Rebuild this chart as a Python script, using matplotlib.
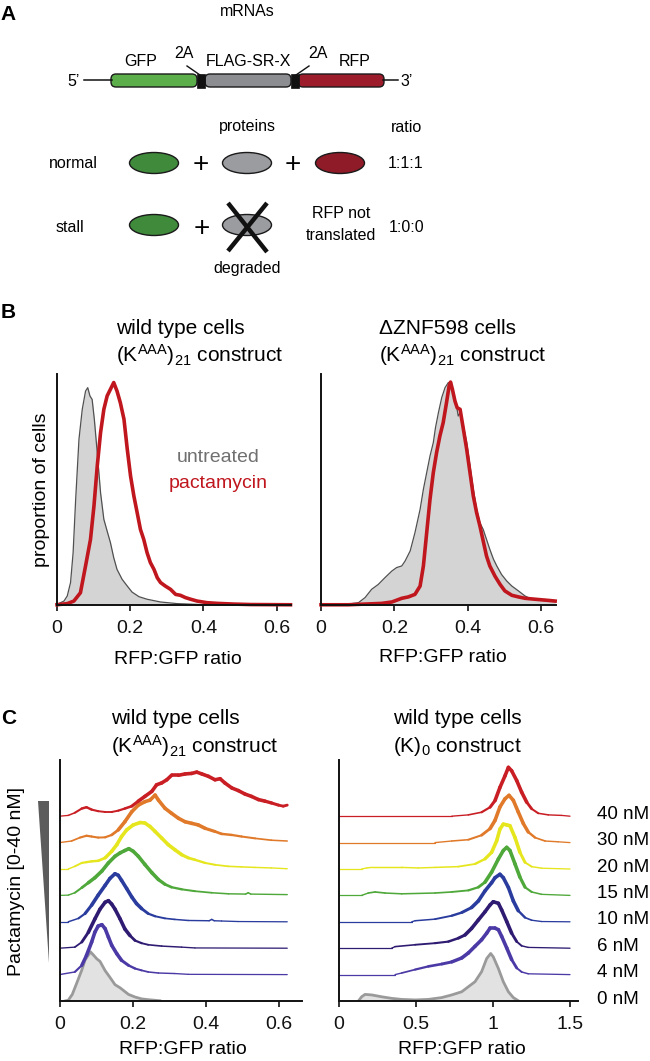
import numpy as np
import matplotlib
matplotlib.use("Agg")
import matplotlib.pyplot as plt
from matplotlib import font_manager
from matplotlib.patches import Ellipse, FancyBboxPatch, Rectangle, Polygon
from matplotlib.collections import LineCollection

# ---------------- data: panel B (normalised proportion of cells) ----------------
wt_untreated_x = [0.0, 0.019, 0.028, 0.037, 0.044, 0.051, 0.060, 0.069, 0.078, 0.084, 0.090, 0.096, 0.102,
                  0.110, 0.119, 0.128, 0.137, 0.146, 0.155, 0.164, 0.178, 0.192, 0.205, 0.224, 0.246, 0.283,
                  0.328, 0.392, 0.45, 0.55, 0.64]
wt_untreated_y = [0.003, 0.017, 0.039, 0.097, 0.226, 0.457, 0.717, 0.847, 0.926, 0.941, 0.905, 0.890, 0.804,
                  0.659, 0.486, 0.371, 0.320, 0.270, 0.205, 0.154, 0.111, 0.082, 0.056, 0.036, 0.025, 0.013,
                  0.006, 0.002, 0.001, 0.0, 0.0]
wt_pact_x = [0.0, 0.028, 0.046, 0.064, 0.078, 0.0915, 0.101, 0.110, 0.119, 0.128, 0.137, 0.146, 0.155, 0.164,
             0.173, 0.183, 0.192, 0.201, 0.210, 0.219, 0.228, 0.237, 0.246, 0.255, 0.265, 0.274, 0.283, 0.296,
             0.310, 0.324, 0.337, 0.351, 0.365, 0.383, 0.410, 0.438, 0.483, 0.529, 0.638]
wt_pact_y = [0.001, 0.006, 0.017, 0.053, 0.169, 0.284, 0.429, 0.602, 0.746, 0.847, 0.905, 0.934, 0.963, 0.926,
             0.876, 0.804, 0.674, 0.558, 0.472, 0.400, 0.327, 0.284, 0.227, 0.184, 0.154, 0.118, 0.097, 0.082,
             0.068, 0.046, 0.042, 0.032, 0.025, 0.017, 0.010, 0.007, 0.004, 0.002, 0.001]
znf_untreated_x = [0.0, 0.074, 0.102, 0.120, 0.138, 0.156, 0.174, 0.193, 0.206, 0.220, 0.229, 0.243, 0.256,
                   0.270, 0.279, 0.288, 0.297, 0.306, 0.312, 0.320, 0.329, 0.338, 0.347, 0.354, 0.361, 0.370,
                   0.374, 0.379, 0.388, 0.397, 0.406, 0.415, 0.424, 0.433, 0.442, 0.451, 0.460, 0.470, 0.479,
                   0.492, 0.506, 0.520, 0.538, 0.556, 0.574, 0.601, 0.638]
znf_untreated_y = [0.001, 0.004, 0.010, 0.032, 0.068, 0.089, 0.118, 0.147, 0.162, 0.169, 0.190, 0.234, 0.313,
                   0.414, 0.501, 0.573, 0.645, 0.703, 0.768, 0.833, 0.898, 0.941, 0.963, 0.955, 0.919, 0.854,
                   0.818, 0.833, 0.775, 0.703, 0.602, 0.501, 0.414, 0.356, 0.327, 0.284, 0.241, 0.198, 0.169,
                   0.132, 0.104, 0.082, 0.061, 0.039, 0.025, 0.020, 0.017]
znf_pact_x = [0.0, 0.074, 0.120, 0.165, 0.193, 0.220, 0.238, 0.256, 0.270, 0.279, 0.288, 0.297, 0.306, 0.315,
              0.324, 0.333, 0.342, 0.349, 0.353, 0.358, 0.365, 0.371, 0.379, 0.388, 0.397, 0.406, 0.415, 0.424,
              0.433, 0.442, 0.451, 0.460, 0.474, 0.488, 0.501, 0.520, 0.538, 0.556, 0.583, 0.619, 0.638]
znf_pact_y = [0.001, 0.001, 0.004, 0.007, 0.013, 0.029, 0.035, 0.046, 0.082, 0.169, 0.313, 0.457, 0.573, 0.660,
              0.732, 0.790, 0.876, 0.948, 0.965, 0.934, 0.883, 0.854, 0.847, 0.761, 0.674, 0.573, 0.472, 0.400,
              0.342, 0.277, 0.212, 0.169, 0.125, 0.089, 0.061, 0.042, 0.035, 0.029, 0.025, 0.020, 0.017]

# ---------------- data: panel C (heights in units of the ridge spacing) ----------------
dose_labels = ["0 nM", "4 nM", "6 nM", "10 nM", "15 nM", "20 nM", "30 nM", "40 nM"]
dose_colors = ["#9a9a9a", "#4b3aa6", "#2f1b72", "#2a3c9e", "#4fa83a", "#e6e61e", "#e07a2a", "#c81e24"]

kaaa_0nM_x = [0.015, 0.024, 0.035, 0.047, 0.061, 0.070, 0.079, 0.085, 0.093, 0.102, 0.111, 0.125, 0.138, 0.152,
              0.166, 0.189, 0.207, 0.225, 0.243, 0.275]
kaaa_0nM_y = [0.0, 0.03, 0.25, 0.67, 1.17, 1.55, 1.74, 1.86, 1.74, 1.60, 1.50, 1.15, 0.90, 0.62, 0.50, 0.25,
              0.15, 0.08, 0.05, 0.01]
kaaa_4nM_x = [0.0, 0.042, 0.061, 0.074, 0.088, 0.097, 0.106, 0.116, 0.125, 0.134, 0.143, 0.157, 0.170, 0.189,
              0.207, 0.225, 0.243, 0.271, 0.316, 0.353, 0.624]
kaaa_4nM_y = [0.0, 0.10, 0.35, 0.73, 1.23, 1.61, 1.84, 1.89, 1.74, 1.42, 1.11, 0.79, 0.54, 0.35, 0.23, 0.16,
              0.10, 0.06, 0.04, 0.01, 0.0]
kaaa_6nM_x = [0.0, 0.042, 0.061, 0.079, 0.097, 0.111, 0.125, 0.134, 0.143, 0.152, 0.166, 0.179, 0.193, 0.207,
              0.225, 0.243, 0.280, 0.335, 0.371, 0.624]
kaaa_6nM_y = [0.0, 0.04, 0.23, 0.60, 1.11, 1.48, 1.74, 1.80, 1.67, 1.48, 1.11, 0.73, 0.48, 0.29, 0.19, 0.13,
              0.08, 0.04, 0.01, 0.0]
kaaa_10nM_x = [0.0, 0.024, 0.052, 0.070, 0.088, 0.106, 0.125, 0.138, 0.152, 0.161, 0.170, 0.184, 0.198, 0.211,
               0.225, 0.243, 0.262, 0.289, 0.316, 0.353, 0.410, 0.417, 0.424, 0.444, 0.490, 0.624]
kaaa_10nM_y = [0.0, 0.0, 0.13, 0.31, 0.63, 1.01, 1.38, 1.64, 1.82, 1.76, 1.57, 1.26, 0.94, 0.69, 0.50, 0.31,
               0.21, 0.13, 0.09, 0.05, 0.04, 0.09, 0.04, 0.03, 0.01, 0.0]
kaaa_15nM_x = [0.0, 0.024, 0.042, 0.061, 0.079, 0.097, 0.116, 0.134, 0.152, 0.166, 0.179, 0.190, 0.202, 0.216,
               0.234, 0.253, 0.271, 0.289, 0.307, 0.335, 0.371, 0.417, 0.463, 0.510, 0.517, 0.524, 0.624]
kaaa_15nM_y = [0.0, 0.01, 0.10, 0.29, 0.48, 0.67, 0.92, 1.23, 1.48, 1.61, 1.70, 1.77, 1.67, 1.48, 1.17, 0.86,
               0.60, 0.42, 0.31, 0.23, 0.16, 0.10, 0.06, 0.05, 0.10, 0.05, 0.03]
kaaa_20nM_x = [0.0, 0.024, 0.042, 0.061, 0.074, 0.088, 0.106, 0.125, 0.143, 0.157, 0.170, 0.184, 0.202, 0.221,
               0.234, 0.248, 0.262, 0.280, 0.298, 0.316, 0.335, 0.353, 0.371, 0.399, 0.426, 0.463, 0.499, 0.536,
               0.581, 0.624]
kaaa_20nM_y = [0.0, 0.0, 0.10, 0.23, 0.26, 0.29, 0.31, 0.42, 0.67, 0.92, 1.23, 1.48, 1.67, 1.76, 1.74, 1.61,
               1.42, 1.17, 0.92, 0.73, 0.54, 0.42, 0.35, 0.23, 0.16, 0.10, 0.08, 0.06, 0.04, 0.01]
kaaa_30nM_x = [0.0, 0.033, 0.056, 0.074, 0.088, 0.106, 0.125, 0.143, 0.161, 0.179, 0.198, 0.216, 0.234, 0.248,
               0.262, 0.271, 0.289, 0.307, 0.326, 0.344, 0.362, 0.380, 0.399, 0.426, 0.444, 0.472, 0.499, 0.536,
               0.581, 0.624]
kaaa_30nM_y = [0.0, 0.06, 0.19, 0.26, 0.23, 0.19, 0.20, 0.29, 0.48, 0.79, 1.17, 1.42, 1.55, 1.61, 1.80, 1.61,
               1.30, 1.11, 0.92, 0.79, 0.73, 0.67, 0.54, 0.42, 0.33, 0.29, 0.23, 0.16, 0.09, 0.06]
kaaa_40nM_x = [0.0, 0.024, 0.042, 0.061, 0.074, 0.088, 0.106, 0.125, 0.143, 0.161, 0.179, 0.198, 0.216, 0.234,
               0.253, 0.266, 0.280, 0.294, 0.307, 0.326, 0.344, 0.362, 0.376, 0.390, 0.408, 0.426, 0.440, 0.453,
               0.472, 0.490, 0.508, 0.526, 0.545, 0.563, 0.581, 0.600, 0.613, 0.624]
kaaa_40nM_y = [0.0, 0.03, 0.13, 0.29, 0.34, 0.25, 0.19, 0.16, 0.16, 0.21, 0.29, 0.38, 0.57, 0.75, 0.94, 1.19,
               1.26, 1.38, 1.55, 1.55, 1.60, 1.62, 1.67, 1.60, 1.51, 1.38, 1.42, 1.26, 1.07, 0.97, 0.84, 0.75,
               0.63, 0.57, 0.50, 0.42, 0.38, 0.42]

k0_0nM_x = [0.126, 0.147, 0.169, 0.212, 0.277, 0.342, 0.407, 0.494, 0.580, 0.667, 0.732, 0.797, 0.840, 0.883,
            0.926, 0.959, 0.985, 1.002, 1.035, 1.067, 1.100, 1.132, 1.164]
k0_0nM_y = [0.0, 0.16, 0.25, 0.23, 0.16, 0.10, 0.06, 0.04, 0.06, 0.13, 0.23, 0.35, 0.54, 0.73, 1.11, 1.61,
            1.80, 1.67, 1.23, 0.73, 0.35, 0.13, 0.01]
k0_4nM_x = [0.0, 0.364, 0.407, 0.494, 0.580, 0.667, 0.732, 0.797, 0.840, 0.883, 0.926, 0.959, 0.981, 1.013,
            1.035, 1.056, 1.089, 1.121, 1.154, 1.186, 1.229, 1.5]
k0_4nM_y = [0.0, 0.0, 0.06, 0.19, 0.31, 0.40, 0.48, 0.63, 0.82, 1.07, 1.32, 1.57, 1.76, 1.76, 1.70, 1.45, 1.01,
            0.57, 0.25, 0.10, 0.03, 0.0]
k0_6nM_x = [0.0, 0.342, 0.364, 0.494, 0.623, 0.710, 0.775, 0.818, 0.861, 0.905, 0.948, 0.981, 1.002, 1.035,
            1.056, 1.089, 1.121, 1.154, 1.186, 1.229, 1.5]
k0_6nM_y = [0.0, 0.0, 0.06, 0.13, 0.19, 0.25, 0.38, 0.50, 0.75, 1.07, 1.38, 1.64, 1.76, 1.70, 1.45, 1.01, 0.57,
            0.25, 0.09, 0.03, 0.0]
k0_10nM_x = [0.0, 0.472, 0.494, 0.623, 0.732, 0.797, 0.861, 0.905, 0.948, 0.991, 1.013, 1.045, 1.067, 1.100,
             1.132, 1.164, 1.208, 1.251, 1.316, 1.5]
k0_10nM_y = [0.0, 0.0, 0.04, 0.10, 0.23, 0.35, 0.54, 0.79, 1.17, 1.48, 1.67, 1.80, 1.67, 1.30, 0.79, 0.42,
             0.16, 0.06, 0.01, 0.0]
k0_15nM_x = [0.0, 0.147, 0.190, 0.234, 0.299, 0.407, 0.623, 0.732, 0.840, 0.905, 0.948, 0.991, 1.035, 1.067,
             1.089, 1.110, 1.143, 1.175, 1.208, 1.251, 1.316, 1.5]
k0_15nM_y = [0.0, 0.0, 0.09, 0.13, 0.09, 0.06, 0.09, 0.13, 0.19, 0.31, 0.50, 0.88, 1.38, 1.70, 1.82, 1.70,
             1.19, 0.69, 0.31, 0.13, 0.04, 0.0]
k0_20nM_x = [0.0, 0.147, 0.180, 0.212, 0.407, 0.515, 0.623, 0.775, 0.883, 0.948, 0.991, 1.024, 1.045, 1.067,
             1.089, 1.110, 1.143, 1.175, 1.208, 1.251, 1.316, 1.5]
k0_20nM_y = [0.0, 0.0, 0.04, 0.06, 0.06, 0.04, 0.06, 0.09, 0.19, 0.38, 0.63, 1.07, 1.51, 1.70, 1.67, 1.64,
             1.19, 0.63, 0.25, 0.09, 0.03, 0.0]
k0_30nM_x = [0.0, 0.623, 0.732, 0.840, 0.926, 0.981, 1.013, 1.045, 1.078, 1.104, 1.132, 1.164, 1.197, 1.229,
             1.273, 1.338, 1.424, 1.5]
k0_30nM_y = [0.0, 0.0, 0.06, 0.11, 0.28, 0.53, 0.84, 1.35, 1.66, 1.79, 1.60, 1.16, 0.72, 0.40, 0.19, 0.06,
             0.03, 0.0]
k0_40nM_x = [0.0, 0.732, 0.840, 0.926, 0.981, 1.013, 1.045, 1.078, 1.100, 1.121, 1.154, 1.186, 1.219, 1.251,
             1.294, 1.359, 1.446, 1.5]
k0_40nM_y = [0.0, 0.0, 0.05, 0.15, 0.34, 0.59, 1.09, 1.53, 1.85, 1.72, 1.35, 0.91, 0.53, 0.28, 0.11, 0.05,
             0.03, 0.0]

b_ticks = [0, 0.2, 0.4, 0.6]
b_ticklabels = ["0", "0.2", "0.4", "0.6"]
c_right_ticks = [0, 0.5, 1, 1.5]
c_right_ticklabels = ["0", "0.5", "1", "1.5"]

# ---------------- fonts ----------------
names = {f.name for f in font_manager.fontManager.ttflist}
MAIN = 'Liberation Sans' if 'Liberation Sans' in names else 'DejaVu Sans'
NARROW = 'Liberation Sans Narrow' if 'Liberation Sans Narrow' in names else None
plt.rcParams['font.family'] = [MAIN, 'DejaVu Sans']
plt.rcParams['mathtext.default'] = 'regular'
plt.rcParams['mathtext.fontset'] = 'custom'
plt.rcParams['mathtext.rm'] = MAIN
plt.rcParams['mathtext.it'] = MAIN + ':italic'
plt.rcParams['mathtext.bf'] = MAIN + ':bold'

if NARROW:
    A_FONT, A_SIZE = [NARROW, MAIN], 13
else:
    A_FONT, A_SIZE = [MAIN], 11.5

W, H = 650, 1061
fig = plt.figure(figsize=(6.5, 10.61), dpi=100)

ov = fig.add_axes([0, 0, 1, 1])
ov.set_xlim(0, W)
ov.set_ylim(H, 0)
ov.axis('off')


def px_axes(left, top, right, bottom):
    return fig.add_axes([left / W, 1 - bottom / H, (right - left) / W, (bottom - top) / H])


def style(ax, ticks, labels, xlim, ylim):
    ax.set_xlim(*xlim)
    ax.set_ylim(*ylim)
    ax.patch.set_alpha(0)
    for s in ['top', 'right']:
        ax.spines[s].set_visible(False)
    for s in ['left', 'bottom']:
        ax.spines[s].set_linewidth(1.4)
        ax.spines[s].set_color('#111111')
    ax.set_yticks([])
    ax.set_xticks(ticks)
    ax.set_xticklabels(labels, fontsize=14)
    ax.tick_params(axis='x', length=4.5, width=1.2, pad=6, direction='out', colors='#111111')


def atext(x, y, s, size=None, **kw):
    kw.setdefault('ha', 'center')
    kw.setdefault('va', 'center')
    ov.text(x, y, s, fontsize=size or A_SIZE, family=A_FONT, **kw)


# ---------------- Panel A ----------------
ov.text(8, 15, "A", fontsize=15, fontweight='bold', ha='center', va='center', family=A_FONT)
atext(247, 12, "mRNAs")
atext(74, 81, "5\u2019")
atext(407, 81, "3\u2019")
ov.plot([84, 112], [80, 80], color='#111', lw=1.1)
ov.plot([383, 398], [80, 80], color='#111', lw=1.1)
for (x0, x1, c) in [(111, 197, '#5cae4b'), (205, 291, '#8b8d91'), (298, 384, '#9c1c2b')]:
    ov.add_patch(FancyBboxPatch((x0, 74), x1 - x0, 13, boxstyle='round,pad=0,rounding_size=5',
                                fc=c, ec='#1a1a1a', lw=1.0))
for x0 in [197, 291]:
    ov.add_patch(Rectangle((x0, 73.5), 8, 14, fc='#111', ec='#111', lw=0.5))
atext(141, 62, "GFP")
atext(248, 62, "FLAG-SR-X")
atext(355, 62, "RFP")
atext(184, 53, "2A")
atext(318, 53, "2A")
ov.plot([187, 200], [66, 75], color='#111', lw=1.0)
ov.plot([309, 296], [66, 75], color='#111', lw=1.0)

atext(247, 127, "proteins")
atext(406, 127, "ratio")
atext(73, 163, "normal")
atext(406, 163, "1:1:1")
atext(70, 227, "stall")
atext(407, 227, "1:0:0")
for (cx, cy, c) in [(154, 163, '#3f8a3b'), (247, 163, '#9b9ca0'), (340, 163, '#8e1b27'),
                    (154, 225, '#3f8a3b'), (247, 225, '#9b9ca0')]:
    ov.add_patch(Ellipse((cx, cy), 49, 21, fc=c, ec='#1a1a1a', lw=1.0))
for (x, y) in [(201, 165), (293, 165), (202, 229)]:
    ov.text(x, y, "+", fontsize=20, ha='center', va='center', family=[MAIN])
ov.plot([228, 267], [203, 252], color='#111', lw=3.2, solid_capstyle='butt')
ov.plot([267, 228], [203, 251], color='#111', lw=3.2, solid_capstyle='butt')
atext(247, 268, "degraded")
atext(341, 213, "RFP not")
atext(341, 235, "translated")

# ---------------- Panel B ----------------
ov.text(8, 313, "B", fontsize=15, fontweight='bold', ha='center', va='center', family=A_FONT)
constr = r"(K$^{AAA}$)$_{21}$ construct"
ov.text(116, 328, "wild type cells", fontsize=15, ha='left', va='center')
ov.text(116, 355, constr, fontsize=15, ha='left', va='center')
ov.text(379, 328, "\u0394ZNF598 cells", fontsize=15, ha='left', va='center')
ov.text(379, 355, constr, fontsize=15, ha='left', va='center')
ov.text(42, 490, "proportion of cells", fontsize=14, rotation=90, ha='center', va='center')
ov.text(218, 458, "untreated", fontsize=14, color='#707070', ha='center', va='center')
ov.text(218, 483, "pactamycin", fontsize=14, color='#c0161e', ha='center', va='center')
ov.text(178, 660, "RFP:GFP ratio", fontsize=14, ha='center', va='center')
ov.text(443, 658, "RFP:GFP ratio", fontsize=14, ha='center', va='center')

axB1 = px_axes(57, 374, 57 + 0.64 * 366, 605)
style(axB1, b_ticks, b_ticklabels, (0, 0.64), (0, 1))
axB1.fill_between(wt_untreated_x, wt_untreated_y, 0, color='#d4d4d4', lw=0)
axB1.plot(wt_untreated_x, wt_untreated_y, color='#505050', lw=0.9)
axB1.plot(wt_pact_x, wt_pact_y, color='#c0161e', lw=2.6, clip_on=False, solid_joinstyle='round')

axB2 = px_axes(321, 374, 321 + 0.64 * 367, 605)
style(axB2, b_ticks, b_ticklabels, (0, 0.64), (0, 1))
axB2.fill_between(znf_untreated_x, znf_untreated_y, 0, color='#d4d4d4', lw=0)
axB2.plot(znf_untreated_x, znf_untreated_y, color='#505050', lw=0.9)
axB2.plot(znf_pact_x, znf_pact_y, color='#c0161e', lw=2.6, clip_on=False, solid_joinstyle='round')

# ---------------- Panel C ----------------
ov.text(9, 718, "C", fontsize=15, fontweight='bold', ha='center', va='center', family=A_FONT)
ov.text(111, 718, "wild type cells", fontsize=15, ha='left', va='center')
ov.text(111, 746, constr, fontsize=15, ha='left', va='center')
ov.text(393, 718, "wild type cells", fontsize=15, ha='left', va='center')
ov.text(393, 746, r"(K)$_{0}$ construct", fontsize=15, ha='left', va='center')
ov.text(183, 1050, "RFP:GFP ratio", fontsize=14, ha='center', va='center')
ov.text(462, 1050, "RFP:GFP ratio", fontsize=14, ha='center', va='center')
ov.text(17, 881, "Pactamycin [0-40 nM]", fontsize=14, rotation=90, ha='center', va='center')
ov.add_patch(Polygon([(38, 801), (49, 801), (49, 963)], closed=True, fc='#5c5c5c', ec='none'))

SPACING = 26.4
YTOP = (1001 - 760) / SPACING


def ridge(ax, x, h, off, color, thin=0.9, thick=2.6):
    x = np.asarray(x, float)
    h = np.asarray(h, float)
    pts = np.column_stack([x, h + off])
    segs = np.stack([pts[:-1], pts[1:]], axis=1)
    hm = (h[:-1] + h[1:]) / 2
    lw = thin + (thick - thin) * np.clip(hm / 0.6, 0, 1)
    lc = LineCollection(segs, colors=color, linewidths=lw, capstyle='round', joinstyle='round')
    ax.add_collection(lc)


axC1 = px_axes(59.5, 760, 59.5 + 0.665 * 365, 1001)
style(axC1, b_ticks, b_ticklabels, (0, 0.665), (0, YTOP))
axC2 = px_axes(339, 760, 339 + 1.55 * 154, 1001)
style(axC2, c_right_ticks, c_right_ticklabels, (0, 1.55), (0, YTOP))

kaaa_series = [(kaaa_0nM_x, kaaa_0nM_y), (kaaa_4nM_x, kaaa_4nM_y), (kaaa_6nM_x, kaaa_6nM_y),
               (kaaa_10nM_x, kaaa_10nM_y), (kaaa_15nM_x, kaaa_15nM_y), (kaaa_20nM_x, kaaa_20nM_y),
               (kaaa_30nM_x, kaaa_30nM_y), (kaaa_40nM_x, kaaa_40nM_y)]
k0_series = [(k0_0nM_x, k0_0nM_y), (k0_4nM_x, k0_4nM_y), (k0_6nM_x, k0_6nM_y),
             (k0_10nM_x, k0_10nM_y), (k0_15nM_x, k0_15nM_y), (k0_20nM_x, k0_20nM_y),
             (k0_30nM_x, k0_30nM_y), (k0_40nM_x, k0_40nM_y)]

for ax, series in [(axC1, kaaa_series), (axC2, k0_series)]:
    for i, (x, y) in enumerate(series):
        if i == 0:
            ax.fill_between(x, y, 0, color='#e2e2e2', lw=0, zorder=1)
            ax.plot(x, y, color=dose_colors[0], lw=2.0, zorder=2)
        else:
            ridge(ax, x, y, i, dose_colors[i])

for i, lab in enumerate(dose_labels):
    ov.text(597, 1001 - i * SPACING - 2, lab, fontsize=13.5, ha='left', va='center')

fig.savefig("out.png", dpi=100)
